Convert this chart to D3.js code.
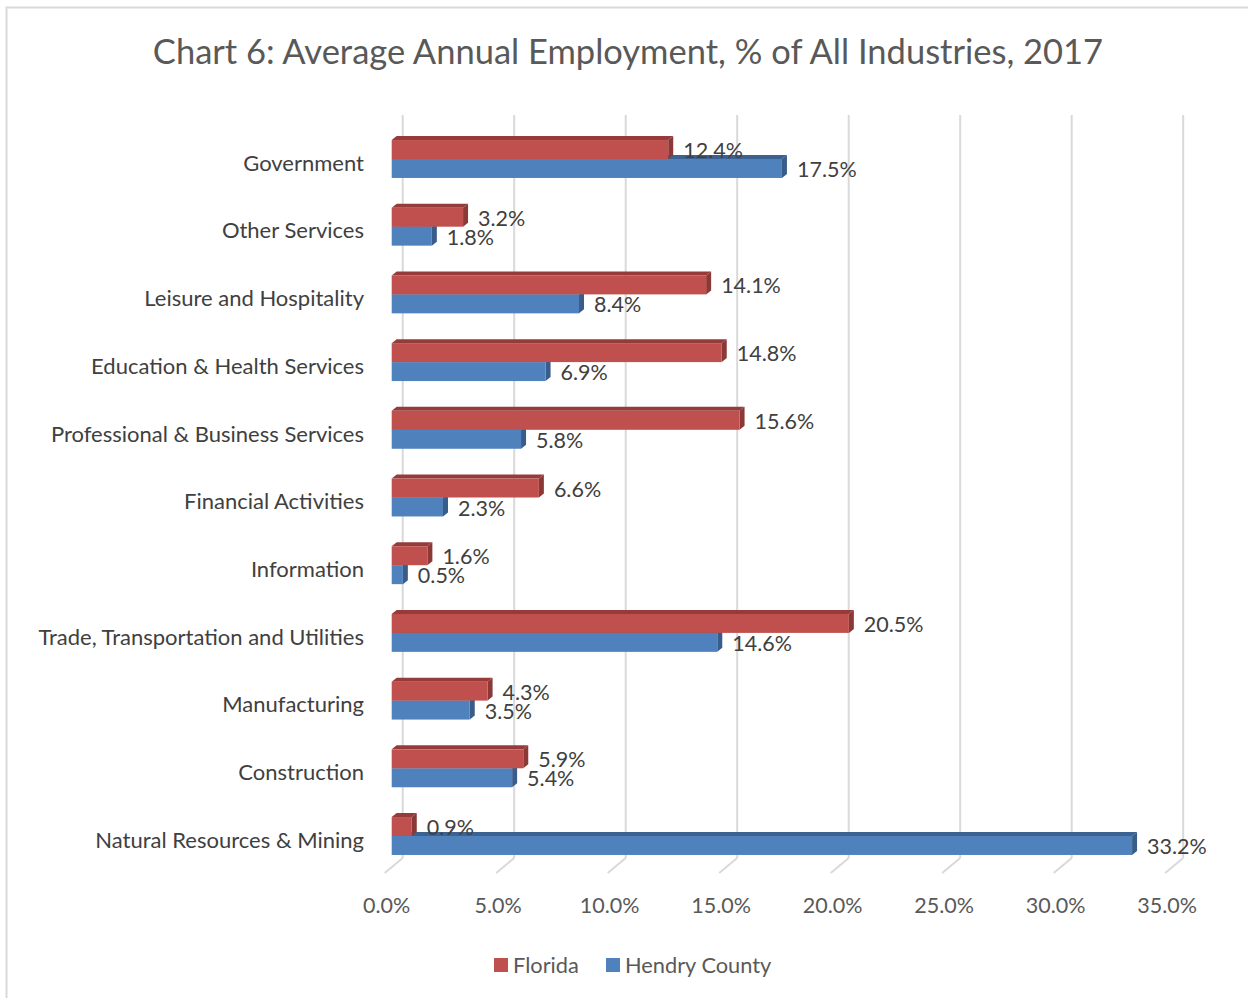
<!DOCTYPE html>
<html>
<head>
<meta charset="utf-8">
<script src="https://cdn.jsdelivr.net/npm/d3@7"></script>
<style>
html,body{margin:0;padding:0;background:#fff;}
svg{display:block;}
</style>
</head>
<body>
<svg id="chart" width="1248" height="998"></svg>
<script>
const categories = ["Government","Other Services","Leisure and Hospitality","Education & Health Services","Professional & Business Services","Financial Activities","Information","Trade, Transportation and Utilities","Manufacturing","Construction","Natural Resources & Mining"];
const florida = [12.4,3.2,14.1,14.8,15.6,6.6,1.6,20.5,4.3,5.9,0.9];
const hendry = [17.5,1.8,8.4,6.9,5.8,2.3,0.5,14.6,3.5,5.4,33.2];
const tickValues = [0,5,10,15,20,25,30,35];
const seriesNames = ["Florida","Hendry County"];
const titleText = "Chart 6: Average Annual Employment, % of All Industries, 2017";

const FONT = "Lato, 'Open Sans', sans-serif";
const svg = d3.select("#chart");

// border
svg.append("rect").attr("x",6.5).attr("y",7.5).attr("width",1270).attr("height",1010)
  .attr("fill","#fff").attr("stroke","#d9d9d9").attr("stroke-width",2);

// title
svg.append("text").attr("x",628).attr("y",64).attr("text-anchor","middle")
  .attr("font-family",FONT).attr("font-size",34.5).attr("fill","#595959").text(titleText);

// scales
const xFront = d3.scaleLinear().domain([0,35]).range([391.7, 391.7+35*22.3]);
const xBack = d3.scaleLinear().domain([0,35]).range([402.7, 402.7+35*22.3]);
const y = d3.scaleBand().domain(categories).range([125.15, 125.15+67.7*11]).paddingInner(0.44).paddingOuter(0.22);
const barH = y.bandwidth()/2;
const dx = 5, dy = -4;

// gridlines (back wall + floor)
const grid = svg.append("g");
grid.selectAll("line.v").data(tickValues).join("line").attr("class","v")
  .attr("x1",d=>xBack(d)).attr("x2",d=>xBack(d)).attr("y1",115).attr("y2",858)
  .attr("stroke","#d9d9d9").attr("stroke-width",2);
grid.selectAll("line.f").data(tickValues).join("line").attr("class","f")
  .attr("x1",d=>xBack(d)).attr("x2",d=>xBack(d)-18).attr("y1",858).attr("y2",873)
  .attr("stroke","#d9d9d9").attr("stroke-width",2);

// axis labels
svg.append("g").selectAll("text").data(tickValues).join("text")
  .attr("x",d=>xBack(d)-16).attr("y",905).attr("dy","0.35em").attr("text-anchor","middle")
  .attr("font-family",FONT).attr("font-size",21.5).attr("fill","#595959")
  .text(d=>d3.format(".1f")(d)+"%");

// category labels
svg.append("g").selectAll("text").data(categories).join("text")
  .attr("x",364).attr("y",d=>y(d)+barH+4).attr("dy","0.35em").attr("text-anchor","end")
  .attr("font-family",FONT).attr("font-size",22).attr("fill","#404040").text(d=>d);

const series = [
  {name:"Hendry County", values:hendry, off:1, front:"#4f81bd", top:"#3c6291", side:"#385d8a"},
  {name:"Florida", values:florida, off:0, front:"#c0504d", top:"#953c3a", side:"#8c3836"}
];

function drawBar(g, v, y0, s){
  const x0 = xFront(0), x1 = xFront(v);
  const y1 = y0 + barH;
  g.append("path").attr("d",`M${x0},${y0}L${x0+dx},${y0+dy}L${x1+dx},${y0+dy}L${x1},${y0}Z`).attr("fill",s.top);
  g.append("path").attr("d",`M${x1},${y0}L${x1+dx},${y0+dy}L${x1+dx},${y1+dy}L${x1},${y1}Z`).attr("fill",s.side);
  g.append("rect").attr("x",x0).attr("y",y0).attr("width",x1-x0).attr("height",barH).attr("fill",s.front);
}

const bars = svg.append("g");
series.forEach(s=>{
  categories.forEach((c,i)=>{
    const g = bars.append("g");
    drawBar(g, s.values[i], y(c)+s.off*barH, s);
  });
});

// data labels
const labels = svg.append("g");
series.forEach(s=>{
  labels.selectAll(null).data(categories).join("text")
    .attr("x",(c,i)=>xFront(s.values[i])+dx+10)
    .attr("y",(c)=>y(c)+s.off*barH+barH/2+1)
    .attr("dy","0.35em")
    .attr("font-family",FONT).attr("font-size",21.5).attr("fill","#404040")
    .text((c,i)=>d3.format(".1f")(s.values[i])+"%");
});

// legend
const legend = svg.append("g");
const legendItems = [{name:seriesNames[0], color:"#c0504d", x:494},{name:seriesNames[1], color:"#4f81bd", x:606}];
legendItems.forEach(it=>{
  legend.append("rect").attr("x",it.x).attr("y",958).attr("width",14).attr("height",14).attr("fill",it.color);
  legend.append("text").attr("x",it.x+19).attr("y",965).attr("dy","0.35em")
    .attr("font-family",FONT).attr("font-size",21.8).attr("fill","#595959").text(it.name);
});
</script>
</body>
</html>
